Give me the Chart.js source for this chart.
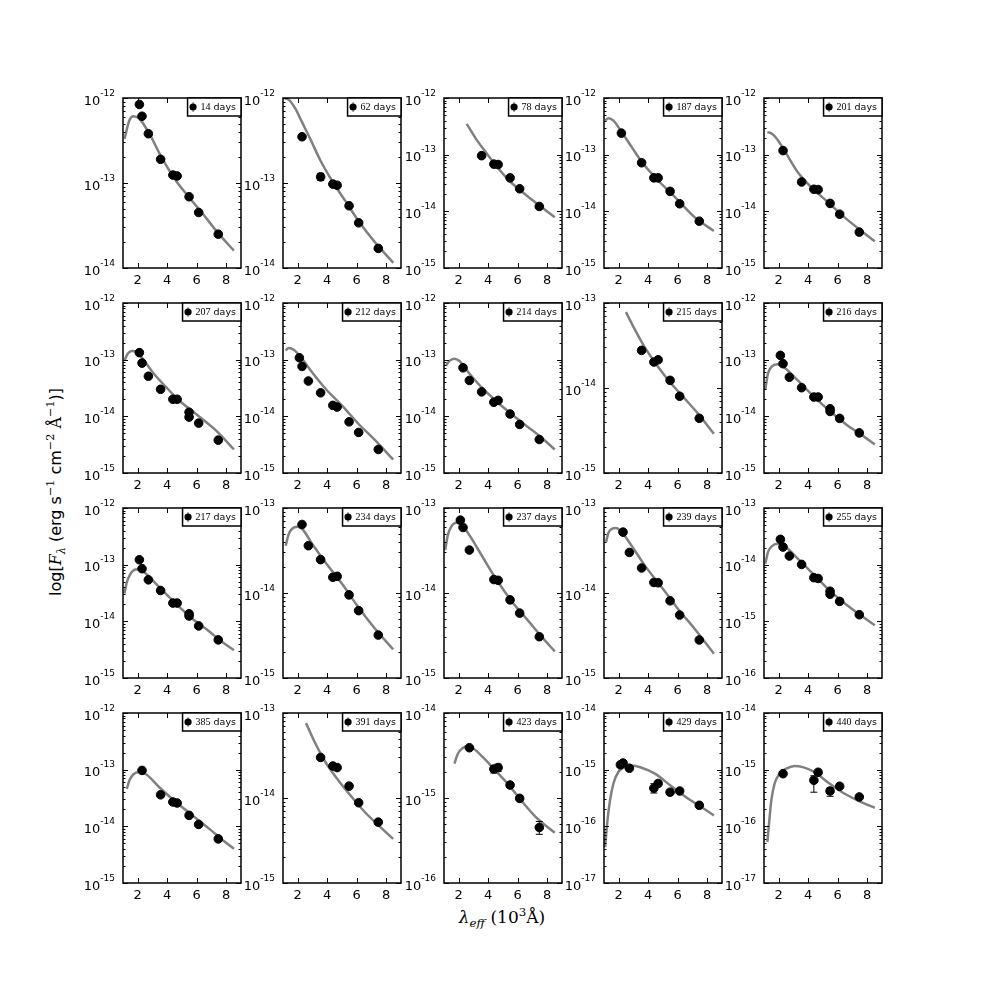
<!DOCTYPE html>
<html>
<head>
<meta charset="utf-8">
<script src="https://cdn.jsdelivr.net/npm/chart.js@4.4.1/dist/chart.umd.min.js"></script>
<style>
  body { margin: 0; background: #fff; }
  #wrap { position: relative; width: 981px; height: 981px; overflow: hidden; background: #fff; }
  canvas { position: absolute; }
  .xlab { position: absolute; left: 502px; top: 917px; transform: translate(-50%, -50%); font: 17px "DejaVu Serif"; white-space: nowrap; }
  .ylab { position: absolute; left: 55px; top: 492px; transform: translate(-50%, -50%) rotate(-90deg); font: 16px "DejaVu Serif"; white-space: nowrap; }
  .ylab .s { font-family: "DejaVu Sans"; }
  sub, sup { font-size: 70%; line-height: 0; }
</style>
</head>
<body>
<div id="wrap">
  <div class="ylab"><span class="s">log[</span><i>F</i><sub><i>λ</i></sub><span class="s"> (erg s</span><sup>−1</sup><span class="s"> cm</span><sup>−2</sup> Å<sup>−1</sup><span class="s">)]</span></div>
  <div class="xlab"><i>λ</i><sub><i>eff</i></sub> (10<sup>3</sup>Å)</div>
</div>
<script>
// epochs, one panel each
const epochs = ['14 days', '62 days', '78 days', '187 days', '201 days',
  '207 days', '212 days', '214 days', '215 days', '216 days',
  '217 days', '234 days', '237 days', '239 days', '255 days',
  '385 days', '391 days', '423 days', '429 days', '440 days']

// y axis limits as decade exponents
const yLowExp  = [-14, -14, -15, -15, -15, -15, -15, -15, -15, -15, -15, -15, -15, -15, -16, -15, -15, -16, -17, -17]
const yHighExp = [-12, -12, -12, -12, -12, -12, -12, -12, -13, -12, -12, -13, -13, -13, -13, -12, -13, -14, -14, -14]
const xTicks = [2, 4, 6, 8]

// photometry (10^3 A, erg/s/cm2/A)
const obsX = [
  [2.11, 2.29, 2.72, 3.55, 4.38, 4.67, 5.48, 6.13, 7.46],
  [2.29, 3.55, 4.38, 4.67, 5.48, 6.13, 7.46],
  [3.55, 4.38, 4.67, 5.48, 6.13, 7.46],
  [2.18, 3.55, 4.38, 4.67, 5.48, 6.13, 7.46],
  [2.29, 3.55, 4.38, 4.67, 5.48, 6.13, 7.46],
  [2.11, 2.29, 2.72, 3.55, 4.38, 4.67, 5.48, 5.48, 6.13, 7.46],
  [2.11, 2.29, 2.72, 3.55, 4.38, 4.67, 5.48, 6.13, 7.46],
  [2.29, 2.72, 3.55, 4.38, 4.67, 5.48, 6.13, 7.46],
  [3.55, 4.38, 4.67, 5.48, 6.13, 7.46],
  [2.11, 2.29, 2.72, 3.55, 4.38, 4.67, 5.48, 5.48, 6.13, 7.46],
  [2.11, 2.29, 2.72, 3.55, 4.38, 4.67, 5.48, 5.48, 6.13, 7.46],
  [2.29, 2.72, 3.55, 4.38, 4.67, 5.48, 6.13, 7.46],
  [2.11, 2.29, 2.72, 4.38, 4.67, 5.48, 6.13, 7.46],
  [2.29, 2.72, 3.55, 4.38, 4.67, 5.48, 6.13, 7.46],
  [2.11, 2.29, 2.72, 3.55, 4.38, 4.67, 5.48, 5.48, 6.13, 7.46],
  [2.29, 3.55, 4.38, 4.67, 5.48, 6.13, 7.46],
  [3.55, 4.38, 4.67, 5.48, 6.13, 7.46],
  [2.72, 4.38, 4.67, 5.48, 6.13, 7.46],
  [2.11, 2.29, 2.72, 4.38, 4.67, 5.48, 6.13, 7.46],
  [2.29, 4.38, 4.67, 5.48, 6.13, 7.46]
]
const obsY = [
  [8.4e-13, 6.1e-13, 3.8e-13, 1.9e-13, 1.24e-13, 1.21e-13, 6.9e-14, 4.5e-14, 2.5e-14],
  [3.5e-13, 1.18e-13, 9.7e-14, 9.4e-14, 5.4e-14, 3.4e-14, 1.7e-14],
  [9.6e-14, 6.8e-14, 6.7e-14, 3.9e-14, 2.5e-14, 1.22e-14],
  [2.4e-13, 7.2e-14, 3.9e-14, 3.9e-14, 2.25e-14, 1.36e-14, 6.7e-15],
  [1.18e-13, 3.3e-14, 2.45e-14, 2.42e-14, 1.38e-14, 8.9e-15, 4.3e-15],
  [1.33e-13, 8.7e-14, 5.1e-14, 3.0e-14, 2.0e-14, 2.0e-14, 1.18e-14, 9.7e-15, 7.6e-15, 3.8e-15],
  [1.08e-13, 7.6e-14, 4.2e-14, 2.6e-14, 1.56e-14, 1.46e-14, 8.0e-15, 5.2e-15, 2.6e-15],
  [7.2e-14, 4.3e-14, 2.7e-14, 1.77e-14, 1.91e-14, 1.1e-14, 7.2e-15, 3.9e-15],
  [2.77e-14, 2.02e-14, 2.15e-14, 1.23e-14, 8.0e-15, 4.4e-15],
  [1.19e-13, 8.5e-14, 4.9e-14, 3.2e-14, 2.19e-14, 2.19e-14, 1.36e-14, 1.22e-14, 9.2e-15, 5.1e-15],
  [1.22e-13, 8.5e-14, 5.4e-14, 3.5e-14, 2.1e-14, 2.1e-14, 1.36e-14, 1.24e-14, 8.3e-15, 4.7e-15],
  [6.4e-14, 3.6e-14, 2.47e-14, 1.53e-14, 1.57e-14, 9.5e-15, 6.2e-15, 3.2e-15],
  [7.2e-14, 5.9e-14, 3.2e-14, 1.44e-14, 1.41e-14, 8.3e-15, 5.8e-15, 3.06e-15],
  [5.2e-14, 3.0e-14, 1.97e-14, 1.33e-14, 1.32e-14, 8.1e-15, 5.5e-15, 2.8e-15],
  [2.8e-14, 2.05e-14, 1.42e-14, 1.01e-14, 5.9e-15, 5.7e-15, 3.4e-15, 3.0e-15, 2.25e-15, 1.31e-15],
  [9.7e-14, 3.6e-14, 2.69e-14, 2.58e-14, 1.56e-14, 1.08e-14, 6.0e-15],
  [3.0e-14, 2.38e-14, 2.28e-14, 1.38e-14, 8.8e-15, 5.2e-15],
  [3.9e-15, 2.19e-15, 2.28e-15, 1.42e-15, 9.9e-16, 4.5e-16],
  [1.22e-15, 1.31e-15, 1.06e-15, 4.7e-16, 5.7e-16, 4.0e-16, 4.2e-16, 2.35e-16],
  [8.5e-16, 6.5e-16, 9.0e-16, 4.2e-16, 5.1e-16, 3.3e-16]
]

// error bars that show outside the markers: [panel, point, low, high]
const errBars = [
  [1, 1, 1.07e-13, 1.3e-13],
  [17, 1, 1.97e-15, 2.4e-15], [17, 2, 2.05e-15, 2.5e-15], [17, 5, 3.74e-16, 5.3e-16],
  [18, 0, 1.1e-15, 1.35e-15], [18, 1, 1.17e-15, 1.45e-15], [18, 3, 3.87e-16, 5.66e-16], [18, 4, 5.2e-16, 6.3e-16],
  [19, 1, 4.0e-16, 7.8e-16], [19, 3, 3.39e-16, 4.8e-16]
]

// fitted model curves
const modelX = [
  [1.1, 1.44, 1.71, 2.11, 2.79, 3.55, 4.58, 5.48, 6.38, 7.51, 8.52],
  [1.1, 1.3, 1.51, 1.84, 2.29, 2.85, 3.53, 4.31, 5.21, 6.11, 7.24, 8.48],
  [2.54, 3.17, 3.84, 4.51, 5.41, 6.31, 7.44, 8.51],
  [1.08, 1.3, 1.64, 2.2, 2.87, 3.66, 4.67, 5.8, 7.14, 8.45],
  [1.23, 1.54, 1.94, 2.51, 3.29, 4.19, 5.32, 6.44, 7.56, 8.51],
  [1.1, 1.33, 1.62, 1.89, 2.34, 3.01, 3.91, 4.81, 5.93, 7.28, 8.52],
  [1.17, 1.39, 1.73, 2.29, 2.97, 3.87, 4.99, 6.11, 7.24, 8.47],
  [1.14, 1.37, 1.71, 2.04, 2.72, 3.62, 4.74, 6.09, 7.44, 8.51],
  [2.49, 3.1, 3.77, 4.67, 5.57, 6.47, 7.37, 8.45],
  [1.09, 1.27, 1.54, 1.9, 2.39, 3.29, 4.42, 5.54, 6.66, 7.56, 8.51],
  [1.1, 1.26, 1.48, 1.84, 2.16, 2.56, 3.46, 4.58, 5.71, 6.83, 7.73, 8.52],
  [1.18, 1.4, 1.62, 1.96, 2.29, 2.97, 3.87, 4.99, 6.11, 7.24, 8.47],
  [1.08, 1.26, 1.48, 1.82, 2.15, 2.72, 3.62, 4.51, 5.64, 6.76, 7.66, 8.51],
  [1.14, 1.3, 1.53, 1.8, 2.2, 2.87, 3.77, 4.9, 6.02, 7.14, 8.45],
  [1.09, 1.27, 1.54, 1.9, 2.39, 3.29, 4.42, 5.54, 6.66, 7.56, 8.51],
  [1.26, 1.44, 1.71, 2.07, 2.56, 3.46, 4.58, 5.71, 6.83, 7.73, 8.52],
  [2.56, 3.19, 3.87, 4.76, 5.66, 6.56, 7.46, 8.47],
  [1.71, 1.93, 2.27, 2.6, 2.94, 3.62, 4.51, 5.41, 6.31, 7.21, 8.51],
  [1.08, 1.19, 1.41, 1.64, 1.97, 2.42, 2.87, 3.55, 4.45, 5.57, 6.69, 7.59, 8.45],
  [1.23, 1.32, 1.5, 1.72, 2.06, 2.51, 3.07, 3.63, 4.42, 5.32, 6.44, 7.56, 8.51]
]
const modelY = [
  [3.3e-13, 5.5e-13, 6.1e-13, 5.7e-13, 3.8e-13, 2.1e-13, 1.07e-13, 6.8e-14, 4.4e-14, 2.5e-14, 1.6e-14],
  [9.9e-13, 9.8e-13, 9.1e-13, 7.5e-13, 5.2e-13, 3.3e-13, 1.85e-13, 1.07e-13, 6.2e-14, 3.6e-14, 2.0e-14, 1.15e-14],
  [3.5e-13, 1.9e-13, 1.1e-13, 6.5e-14, 3.5e-14, 2.2e-14, 1.28e-14, 7.9e-15],
  [4.0e-13, 4.4e-13, 4.0e-13, 2.5e-13, 1.37e-13, 6.9e-14, 3.5e-14, 1.8e-14, 7.9e-15, 4.5e-15],
  [2.5e-13, 2.35e-13, 1.8e-13, 1.04e-13, 4.9e-14, 2.7e-14, 1.46e-14, 7.9e-15, 4.6e-15, 2.95e-15],
  [9.7e-14, 1.28e-13, 1.42e-13, 1.37e-13, 1.04e-13, 6.0e-14, 3.3e-14, 1.9e-14, 1.11e-14, 5.7e-15, 2.6e-15],
  [1.46e-13, 1.61e-13, 1.5e-13, 1.04e-13, 6.0e-14, 3.1e-14, 1.56e-14, 7.4e-15, 3.8e-15, 1.72e-15],
  [7.9e-14, 9.5e-14, 1.04e-13, 9.5e-14, 5.7e-14, 3.1e-14, 1.67e-14, 8.5e-15, 4.6e-15, 2.6e-15],
  [7.8e-14, 4.85e-14, 3.0e-14, 1.77e-14, 1.12e-14, 7.5e-15, 5.0e-15, 2.9e-15],
  [3.0e-14, 5.7e-14, 7.6e-14, 8.3e-14, 7.2e-14, 4.3e-14, 2.19e-14, 1.19e-14, 6.9e-15, 4.8e-15, 3.2e-15],
  [3.1e-14, 4.9e-14, 6.7e-14, 8.2e-14, 8.3e-14, 6.9e-14, 4.0e-14, 2.05e-14, 1.11e-14, 6.7e-15, 4.3e-15, 3.1e-15],
  [3.6e-14, 5.0e-14, 5.7e-14, 6.0e-14, 5.7e-14, 3.8e-14, 2.3e-14, 1.29e-14, 6.8e-15, 3.8e-15, 2.17e-15],
  [3.2e-14, 4.8e-14, 6.0e-14, 6.7e-14, 6.5e-14, 4.8e-14, 2.65e-14, 1.48e-14, 7.8e-15, 4.6e-15, 3.0e-15, 2.06e-15],
  [4.0e-14, 5.1e-14, 5.7e-14, 5.8e-14, 5.2e-14, 3.6e-14, 2.1e-14, 1.18e-14, 6.5e-15, 3.8e-15, 1.93e-15],
  [1.04e-14, 1.67e-14, 2.13e-14, 2.35e-14, 2.13e-14, 1.28e-14, 6.5e-15, 3.3e-15, 1.91e-15, 1.28e-15, 8.5e-16],
  [4.6e-14, 6.5e-14, 8.3e-14, 9.1e-14, 8.3e-14, 4.9e-14, 2.69e-14, 1.56e-14, 9.1e-15, 5.8e-15, 4.0e-15],
  [7.6e-14, 4.4e-14, 2.65e-14, 1.61e-14, 1.03e-14, 6.8e-15, 4.8e-15, 3.3e-15],
  [2.54e-15, 3.3e-15, 3.87e-15, 4.06e-15, 3.87e-15, 3.04e-15, 2.08e-15, 1.41e-15, 9.0e-16, 6.0e-16, 3.9e-16],
  [4.3e-17, 9.7e-17, 2.9e-16, 5.7e-16, 9.1e-16, 1.11e-15, 1.18e-15, 1.08e-15, 8.5e-16, 5.1e-16, 3.1e-16, 2.2e-16, 1.56e-16],
  [5.3e-17, 9.7e-17, 2.9e-16, 5.7e-16, 8.5e-16, 1.04e-15, 1.16e-15, 1.11e-15, 9.1e-16, 6.0e-16, 3.8e-16, 2.7e-16, 2.13e-16]
]

// panel grid (plot area boxes)
const colLeft = [123, 283, 444, 604, 764]
const rowTop = [98, 303, 508, 713]
const PW = 118, PH = 170
const PADL = 50, PADT = 12, PADR = 8, PADB = 24

Chart.defaults.font.family = '"DejaVu Sans"'
Chart.defaults.font.size = 13
Chart.defaults.color = '#000'

const panelPlugin = {
  id: 'panel',
  beforeDatasetDraw(chart, args) {
    if (args.index !== 1) return
    const i = chart.options.plugins.panel.idx
    const ctx = chart.ctx, xs = chart.scales.x, ys = chart.scales.y
    ctx.save()
    ctx.strokeStyle = '#000'
    ctx.lineWidth = 1
    errBars.filter(e => e[0] === i).forEach(e => {
      const px = xs.getPixelForValue(obsX[i][e[1]])
      const lo = ys.getPixelForValue(e[2]), hi = ys.getPixelForValue(e[3])
      ctx.beginPath()
      ctx.moveTo(px, lo); ctx.lineTo(px, hi)
      ctx.moveTo(px - 3.5, lo); ctx.lineTo(px + 3.5, lo)
      ctx.moveTo(px - 3.5, hi); ctx.lineTo(px + 3.5, hi)
      ctx.stroke()
    })
    ctx.restore()
  },
  afterDraw(chart) {
    const ctx = chart.ctx, a = chart.chartArea, xs = chart.scales.x, ys = chart.scales.y
    ctx.save()
    ctx.strokeStyle = '#000'
    ctx.lineWidth = 1
    ctx.beginPath()
    xs.ticks.forEach(t => {
      const px = Math.round(xs.getPixelForValue(t.value)) + 0.5
      ctx.moveTo(px, a.bottom); ctx.lineTo(px, a.bottom - 5)
      ctx.moveTo(px, a.top); ctx.lineTo(px, a.top + 5)
    })
    const e0 = Math.round(Math.log10(ys.min)), e1 = Math.round(Math.log10(ys.max))
    for (let e = e0; e <= e1; e++) {
      for (let k = 1; k <= 9; k++) {
        const v = Number(k + 'e' + e)
        if (v < ys.min * 0.999 || v > ys.max * 1.001) continue
        const py = Math.round(ys.getPixelForValue(v)) + 0.5
        const len = k === 1 ? 5 : 2.5
        ctx.moveTo(a.left, py); ctx.lineTo(a.left + len, py)
        ctx.moveTo(a.right, py); ctx.lineTo(a.right - len, py)
      }
    }
    ctx.stroke()
    ctx.lineWidth = 1.5
    ctx.strokeRect(a.left, a.top, a.right - a.left, a.bottom - a.top)

    // decade labels 10^n with a raised exponent
    ctx.fillStyle = '#000'
    ctx.textAlign = 'left'
    ctx.textBaseline = 'alphabetic'
    ys.ticks.forEach(t => {
      const py = ys.getPixelForValue(t.value)
      const ex = String(Math.round(Math.log10(t.value)))
      ctx.font = '9px "DejaVu Sans"'
      const we = ctx.measureText(ex).width
      ctx.font = '13px "DejaVu Sans"'
      const wb = ctx.measureText('10').width
      const xr = a.left - 8
      ctx.fillText('10', xr - we - wb, py + 6.5)
      ctx.font = '9px "DejaVu Sans"'
      ctx.fillText(ex, xr - we, py - 2.5)
    })

    // legend box in the upper right corner
    const label = chart.data.datasets[1].label
    const num = label.split(' ')[0], rest = ' ' + label.split(' ').slice(1).join(' ')
    ctx.font = '10px "Liberation Serif"'
    const w1 = ctx.measureText(num).width
    ctx.font = '9.5px "DejaVu Sans"'
    const w2 = ctx.measureText(rest).width
    const bw = 13 + w1 + w2 + 5, bh = 18
    const bx = a.right - bw, by = a.top
    ctx.fillStyle = '#fff'
    ctx.fillRect(bx, by, bw, bh)
    ctx.strokeRect(bx, by, bw, bh)
    ctx.strokeStyle = '#666'
    ctx.lineWidth = 1
    ctx.beginPath()
    ctx.moveTo(bx + 5.5, by + 4); ctx.lineTo(bx + 5.5, by + 14)
    ctx.stroke()
    ctx.fillStyle = '#000'
    ctx.beginPath()
    ctx.arc(bx + 5.5, by + 9, 3.6, 0, Math.PI * 2)
    ctx.fill()
    ctx.textBaseline = 'middle'
    ctx.font = '10px "Liberation Serif"'
    ctx.fillText(num, bx + 13, by + 9.5)
    ctx.font = '9.5px "DejaVu Sans"'
    ctx.fillText(rest, bx + 13 + w1, by + 9.5)
    ctx.restore()
  }
}

const wrap = document.getElementById('wrap')
epochs.forEach((ep, i) => {
  const col = i % 5, row = Math.floor(i / 5)
  const cv = document.createElement('canvas')
  cv.width = PADL + PW + PADR
  cv.height = PADT + PH + PADB
  cv.style.left = (colLeft[col] - PADL) + 'px'
  cv.style.top = (rowTop[row] - PADT) + 'px'
  wrap.appendChild(cv)

  const decades = []
  for (let e = yLowExp[i]; e <= yHighExp[i]; e++) decades.push(Number('1e' + e))

  new Chart(cv.getContext('2d'), {
    type: 'scatter',
    data: {
      datasets: [{
        label: 'model',
        data: modelX[i].map((x, j) => ({ x: x, y: modelY[i][j] })),
        showLine: true,
        borderColor: '#808080',
        borderWidth: 2.5,
        pointRadius: 0,
        cubicInterpolationMode: 'monotone',
        order: 2
      }, {
        label: ep,
        data: obsX[i].map((x, j) => ({ x: x, y: obsY[i][j] })),
        backgroundColor: '#000',
        borderColor: '#000',
        borderWidth: 1,
        pointRadius: 4.3,
        order: 1
      }]
    },
    options: {
      responsive: false,
      animation: false,
      devicePixelRatio: 1,
      layout: { padding: { left: 0, top: PADT, right: PADR, bottom: 0 } },
      plugins: {
        legend: { display: false },
        tooltip: { enabled: false },
        panel: { idx: i }
      },
      scales: {
        x: {
          type: 'linear',
          min: 1,
          max: 9,
          afterBuildTicks: s => { s.ticks = xTicks.map(v => ({ value: v })) },
          afterFit: s => { s.height = PADB },
          grid: { display: false, drawTicks: false },
          border: { display: false },
          ticks: { padding: 5, maxRotation: 0, font: { size: 13 } }
        },
        y: {
          type: 'logarithmic',
          min: decades[0],
          max: decades[decades.length - 1],
          afterBuildTicks: s => { s.ticks = decades.map(v => ({ value: v })) },
          afterFit: s => { s.width = PADL },
          grid: { display: false, drawTicks: false },
          border: { display: false },
          ticks: { display: false }
        }
      }
    },
    plugins: [panelPlugin]
  })
})
</script>
</body>
</html>
